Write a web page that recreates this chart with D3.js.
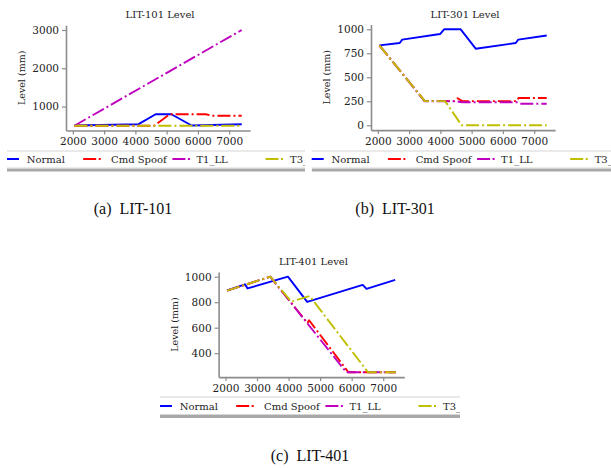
<!DOCTYPE html>
<html><head><meta charset="utf-8">
<script src="https://cdn.jsdelivr.net/npm/d3@7"></script>
<style>
html,body{margin:0;padding:0;background:#fff;}
svg{display:block;}
</style></head>
<body>
<svg id="chart" width="611" height="468"></svg>
<script>
// ---------- data ----------
const seriesNames = ["Normal", "Cmd Spoof", "T1_LL", "T3_"];
const seriesColors = ["#0000ff", "#ff0000", "#bf00bf", "#bfbf00"];
const xTicks = [2000, 3000, 4000, 5000, 6000, 7000];
const xDomain = [1782, 7668];

// LIT-101
const lit101Normal = [[2050,505],[4100,540],[4650,800],[5150,800],[5800,505],[7400,540]];
const lit101Spoof  = [[2050,500],[4600,500],[5100,800],[6250,800],[6450,760],[7400,760]];
const lit101T1     = [[2050,500],[7400,3000]];
const lit101T3     = [[2050,500],[7400,500]];
const lit101YTicks = [1000, 2000, 3000];
const lit101YDomain = [375, 3125];

// LIT-301
const lit301Normal = [[2050,833],[2700,857],[2780,892],[3990,951],[4120,1000],[4650,1000],[5130,798],[6410,857],[6490,892],[7400,935]];
const lit301Spoof  = [[2050,833],[3500,252],[4450,252],[4550,282],[4700,252],[6450,252],[6500,285],[7400,285]];
const lit301T1     = [[2050,833],[3500,250],[4500,250],[4700,240],[6450,240],[6550,225],[7400,225]];
const lit301T3     = [[2050,833],[3500,252],[4150,252],[4680,0],[7400,0]];
const lit301YTicks = [0, 250, 500, 750, 1000];
const lit301YDomain = [-50, 1050];

// LIT-401
const lit401Normal = [[2050,892],[2620,940],[2700,908],[3980,1000],[4590,802],[6350,936],[6470,904],[7380,975]];
const lit401Spoof  = [[2050,890],[3420,1000],[4600,636],[4650,658],[5900,250],[7400,250]];
const lit401T1     = [[2050,890],[3420,1000],[5830,250],[7400,250]];
const lit401T3     = [[2050,890],[3420,1000],[4085,804],[4670,848],[6520,250],[7400,250]];
const lit401YTicks = [400, 600, 800, 1000];
const lit401YDomain = [212.5, 1037.5];

const captions = ["(a)  LIT-101", "(b)  LIT-301", "(c)  LIT-401"];

// ---------- drawing ----------
const svg = d3.select("#chart");
const defs = svg.append("defs");
const serif = "'DejaVu Serif', serif";
const axisGray = "#8c8c8c";
const dashDot = "13,3,2,3";
const legendTextOffsets = [0, 84.3, 169.7, 263.3];
const legendSampleGap = [7.7, 10.3, 6.5, 7];

const panels = [
  {title:"LIT-101 Level", data:[lit101Normal,lit101Spoof,lit101T1,lit101T3], yTicks:lit101YTicks, yDomain:lit101YDomain,
   x0:66, x1:250.1, y0:130.5, y1:25.2,
   legend:{clip:[7,305], top:151, mid:159, band:168.5, start:7}},
  {title:"LIT-301 Level", data:[lit301Normal,lit301Spoof,lit301T1,lit301T3], yTicks:lit301YTicks, yDomain:lit301YDomain,
   x0:371, x1:555.1, y0:130.1, y1:24.5,
   legend:{clip:[311.7,611], top:151, mid:159, band:168.5, start:311.7}},
  {title:"LIT-401 Level", data:[lit401Normal,lit401Spoof,lit401T1,lit401T3], yTicks:lit401YTicks, yDomain:lit401YDomain,
   x0:218.6, x1:404.3, y0:377.1, y1:271.9,
   legend:{clip:[160,460], top:397, mid:406, band:415, start:160}}
];

panels.forEach((p, i) => {
  const x = d3.scaleLinear().domain(xDomain).range([p.x0, p.x1]);
  const y = d3.scaleLinear().domain(p.yDomain).range([p.y0, p.y1]);
  const g = svg.append("g");

  // lines
  const line = d3.line().x(d => x(d[0])).y(d => y(d[1]));
  p.data.forEach((s, k) => {
    g.append("path").datum(s)
      .attr("d", line)
      .attr("fill", "none")
      .attr("stroke", seriesColors[k])
      .attr("stroke-width", 1.9)
      .attr("stroke-linejoin", "round")
      .attr("stroke-dasharray", k === 0 ? null : dashDot);
  });

  // axes
  const ax = g.append("g").attr("transform", `translate(0,${p.y0})`)
    .call(d3.axisBottom(x).tickValues(xTicks).tickFormat(d3.format("d")).tickSize(4).tickSizeOuter(0).tickPadding(3));
  const ay = g.append("g").attr("transform", `translate(${p.x0},0)`)
    .call(d3.axisLeft(y).tickValues(p.yTicks).tickFormat(d3.format("d")).tickSize(4).tickSizeOuter(0).tickPadding(3));
  [ax, ay].forEach(a => {
    a.select(".domain").attr("stroke", axisGray).attr("stroke-width", 1.6);
    a.selectAll(".tick line").attr("stroke", axisGray).attr("stroke-width", 1.2);
    a.selectAll(".tick text").attr("fill", "#222").style("font-family", serif).style("font-size", "10.5px");
  });

  // title
  g.append("text").attr("x", (p.x0 + p.x1) / 2 + 2).attr("y", p.y1 - 7)
    .attr("text-anchor", "middle").style("font-family", serif).style("font-size", "10px").attr("fill", "#222")
    .text(p.title);
  // y label
  g.append("text").attr("transform", `translate(${p.x0 - 41},${(p.y0 + p.y1) / 2}) rotate(-90)`)
    .attr("text-anchor", "middle").style("font-family", serif).style("font-size", "9.5px").attr("fill", "#222")
    .text("Level (mm)");

  // legend (clipped box with shadow, as in the reference)
  const L = p.legend;
  const cid = "clip" + i;
  defs.append("clipPath").attr("id", cid).append("rect")
    .attr("x", L.clip[0]).attr("y", L.top - 5).attr("width", L.clip[1] - L.clip[0]).attr("height", 30);
  const lg = g.append("g").attr("clip-path", `url(#${cid})`);
  lg.append("rect").attr("x", L.start).attr("y", L.band).attr("width", 700).attr("height", 3).attr("fill", "#a8a8a8");
  lg.append("rect").attr("x", L.start - 8).attr("y", L.top).attr("width", 700).attr("height", L.band - L.top - 0.5)
    .attr("fill", "#fff").attr("stroke", "#d6d6d6").attr("stroke-width", 1);
  seriesNames.forEach((n, k) => {
    const tx = L.start + 19.7 + legendTextOffsets[k];
    const ex = tx - legendSampleGap[k];
    lg.append("line").attr("x1", ex - 17.5).attr("x2", ex).attr("y1", L.mid).attr("y2", L.mid)
      .attr("stroke", seriesColors[k]).attr("stroke-width", 2)
      .attr("stroke-dasharray", k === 0 ? null : "13,2.5,2,5");
    lg.append("text").attr("x", tx).attr("y", L.mid + 3.6)
      .style("font-family", serif).style("font-size", "10px").attr("fill", "#222").text(n);
  });
});

// captions
const capPos = [[133, 213.5], [395, 213.5], [310, 461]];
captions.forEach((c, i) => {
  svg.append("text").attr("x", capPos[i][0]).attr("y", capPos[i][1]).attr("text-anchor", "middle")
    .style("font-family", "'Liberation Serif', serif").style("font-size", "16px").attr("fill", "#111")
    .style("white-space", "pre").text(c);
});
</script>
</body></html>
